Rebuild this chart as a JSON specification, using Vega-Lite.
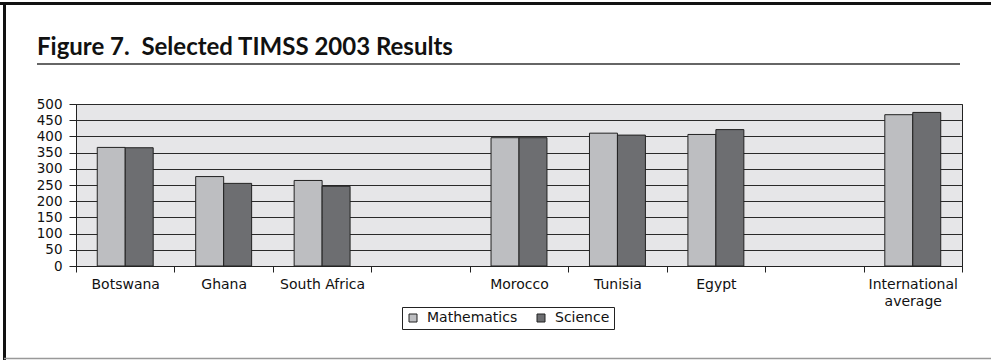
{
  "$schema": "https://vega.github.io/schema/vega-lite/v6.json",
  "width": 886,
  "height": 162,
  "autosize": {"type": "none"},
  "padding": {"left": 76, "top": 104, "right": 29, "bottom": 94},
  "background": "white",
  "title": {
    "text": "Figure 7. \u00a0Selected TIMSS 2003 Results",
    "anchor": "start",
    "frame": "group",
    "dx": -39,
    "dy": 78,
    "baseline": "alphabetic",
    "font": "Lato",
    "fontWeight": "bold",
    "fontSize": 24,
    "color": "#111111",
    "offset": 0
  },
  "data": {
    "values": [
      {"country": "Botswana", "subject": "Mathematics", "score": 366},
      {"country": "Botswana", "subject": "Science", "score": 365},
      {"country": "Ghana", "subject": "Mathematics", "score": 276},
      {"country": "Ghana", "subject": "Science", "score": 255},
      {"country": "South Africa", "subject": "Mathematics", "score": 264},
      {"country": "South Africa", "subject": "Science", "score": 246},
      {"country": "Morocco", "subject": "Mathematics", "score": 396},
      {"country": "Morocco", "subject": "Science", "score": 396},
      {"country": "Tunisia", "subject": "Mathematics", "score": 410},
      {"country": "Tunisia", "subject": "Science", "score": 404},
      {"country": "Egypt", "subject": "Mathematics", "score": 406},
      {"country": "Egypt", "subject": "Science", "score": 421},
      {"country": "International average", "subject": "Mathematics", "score": 467},
      {"country": "International average", "subject": "Science", "score": 474}
    ]
  },
  "layer": [
    {
      "mark": {"type": "bar", "stroke": "#222222", "strokeWidth": 1},
      "encoding": {
        "x": {
          "field": "country",
          "type": "nominal",
          "sort": null,
          "scale": {
            "domain": ["Botswana", "Ghana", "South Africa", " ", "Morocco", "Tunisia", "Egypt", "  ", "International average"],
            "paddingInner": 0,
            "paddingOuter": 0
          },
          "axis": {
            "title": null,
            "labelAngle": 0,
            "tickBand": "extent",
            "tickSize": 6,
            "tickColor": "#222222",
            "domainColor": "#222222",
            "labelPadding": 5,
            "labelFont": "DejaVu Sans",
            "labelFontSize": 14,
            "labelColor": "#111111",
            "labelLineHeight": 17,
            "labelExpr": "datum.value === 'International average' ? ['International', 'average'] : datum.label"
          }
        },
        "xOffset": {
          "field": "subject",
          "type": "nominal",
          "scale": {"paddingInner": 0, "paddingOuter": 0.76}
        },
        "y": {
          "field": "score",
          "type": "quantitative",
          "scale": {"domain": [0, 500], "nice": false},
          "axis": {
            "title": null,
            "values": [0, 50, 100, 150, 200, 250, 300, 350, 400, 450, 500],
            "grid": true,
            "gridColor": "#2a2a2a",
            "gridOpacity": 1,
            "gridWidth": 1,
            "tickSize": 7,
            "tickColor": "#222222",
            "domainColor": "#222222",
            "labelPadding": 7,
            "labelFont": "DejaVu Sans",
            "labelFontSize": 13.5,
            "labelColor": "#111111"
          }
        },
        "color": {
          "field": "subject",
          "type": "nominal",
          "scale": {"domain": ["Mathematics", "Science"], "range": ["#bdbec1", "#6d6e71"]},
          "legend": {
            "orient": "none",
            "legendX": 326,
            "legendY": 203,
            "direction": "horizontal",
            "title": null,
            "symbolType": "square",
            "symbolSize": 64,
            "symbolStrokeColor": "#222222",
            "symbolStrokeWidth": 1,
            "symbolOpacity": 1,
            "labelFont": "DejaVu Sans",
            "labelFontSize": 14,
            "labelColor": "#111111",
            "labelOffset": 7,
            "columnPadding": 16,
            "strokeColor": "#222222",
            "fillColor": "white",
            "padding": 4
          }
        }
      }
    },
    {
      "data": {"values": [{}]},
      "mark": {"type": "rule", "color": "#111111", "strokeWidth": 3},
      "encoding": {"x": {"value": -76}, "x2": {"value": 915}, "y": {"value": -100.5}}
    },
    {
      "data": {"values": [{}]},
      "mark": {"type": "rule", "color": "#111111", "strokeWidth": 3},
      "encoding": {"x": {"value": -71.5}, "y": {"value": -102}, "y2": {"value": 256}}
    },
    {
      "data": {"values": [{}]},
      "mark": {"type": "rule", "color": "#999999", "strokeWidth": 1.5},
      "encoding": {"x": {"value": -72}, "x2": {"value": 915}, "y": {"value": 254.5}}
    },
    {
      "data": {"values": [{}]},
      "mark": {"type": "rule", "color": "#333333", "strokeWidth": 1.5},
      "encoding": {"x": {"value": -39}, "x2": {"value": 884}, "y": {"value": -40}}
    }
  ],
  "config": {
    "view": {"fill": "#e6e6e8", "stroke": "#222222", "strokeWidth": 1}
  }
}
